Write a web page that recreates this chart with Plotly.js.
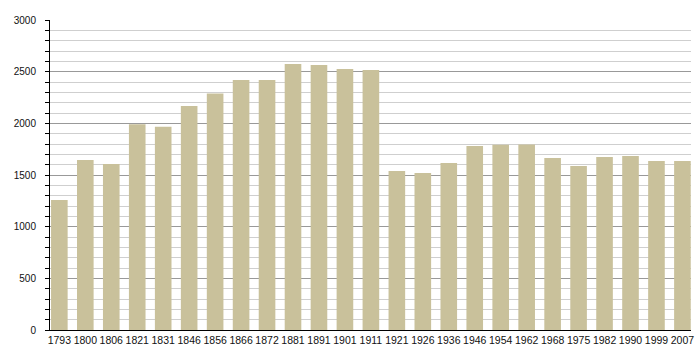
<!DOCTYPE html>
<html>
<head>
<meta charset="utf-8">
<script src="https://cdn.plot.ly/plotly-3.0.1.min.js"></script>
<style>html,body{margin:0;padding:0;background:#fff;}#chart{width:700px;height:360px;}</style>
</head>
<body>
<div id="chart"></div>
<script>
const years = ["1793","1800","1806","1821","1831","1846","1856","1866","1872","1881","1891","1901","1911","1921","1926","1936","1946","1954","1962","1968","1975","1982","1990","1999","2007"];
const population = [1258,1645,1606,1990,1968,2168,2288,2419,2419,2574,2565,2526,2516,1539,1519,1616,1781,1792,1794,1665,1587,1674,1684,1635,1635];

const trace = {
  type: 'bar',
  x: years,
  y: population,
  marker: {color: '#c9c19b', line: {width: 0}},
  hoverinfo: 'x+y'
};

const layout = {
  width: 700, height: 360,
  margin: {l: 50, r: 9, t: 20, b: 30},
  paper_bgcolor: '#fff', plot_bgcolor: '#fff',
  bargap: 0.36,
  showlegend: false,
  xaxis: {
    type: 'category',
    range: [-0.36, 24.33],
    showline: true, linecolor: '#000', linewidth: 1,
    ticks: '', showgrid: false, zeroline: false,
    tickfont: {family: '"Liberation Sans Narrow", "Liberation Sans", Arial, sans-serif', size: 10.5, color: '#111'},
    fixedrange: true
  },
  yaxis: {
    range: [0, 3000],
    dtick: 500, tick0: 0,
    showline: true, linecolor: '#000', linewidth: 1,
    ticks: 'outside', ticklen: 4, tickcolor: '#000', tickwidth: 1,
    ticklabelstandoff: 7,
    showgrid: true, gridcolor: '#999', gridwidth: 1,
    zeroline: false,
    minor: {dtick: 100, ticks: 'outside', ticklen: 4, tickcolor: '#000', showgrid: true, gridcolor: '#cfcfcf', gridwidth: 1},
    tickfont: {family: '"Liberation Sans", Arial, sans-serif', size: 10, color: '#111'},
    fixedrange: true
  }
};

Plotly.newPlot('chart', [trace], layout, {displayModeBar: false, staticPlot: true});
</script>
</body>
</html>
